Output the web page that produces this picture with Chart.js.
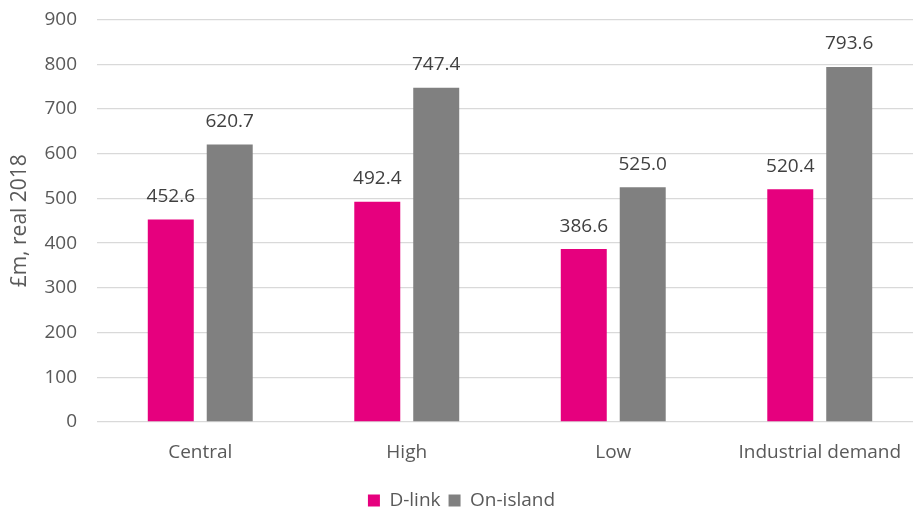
<!DOCTYPE html>
<html>
<head>
<meta charset="utf-8">
<script src="https://cdn.jsdelivr.net/npm/chart.js@4.4.1/dist/chart.umd.min.js"></script>
<style>
  html, body { margin: 0; padding: 0; overflow: hidden; background: #fff; }
  #wrap { width: 925px; height: 511px; }
</style>
</head>
<body>
<div id="wrap"><canvas id="chart" width="925" height="511"></canvas></div>
<script>
var categories = ["Central", "High", "Low", "Industrial demand"];
var dlink = [452.6, 492.4, 386.6, 520.4];
var onIsland = [620.7, 747.4, 525.0, 793.6];
var yTicks = [0, 100, 200, 300, 400, 500, 600, 700, 800, 900];

var font = "'Open Sans', sans-serif";

// draws the value above each bar
var valueLabels = {
  id: 'valueLabels',
  afterDatasetsDraw: function(chart) {
    var ctx = chart.ctx;
    ctx.save();
    ctx.font = "19px " + font;
    ctx.fillStyle = "#404040";
    ctx.textAlign = "center";
    ctx.textBaseline = "middle";
    chart.data.datasets.forEach(function(ds, i) {
      chart.getDatasetMeta(i).data.forEach(function(bar, j) {
        ctx.fillText(ds.data[j].toFixed(1), bar.x, bar.y - 23);
      });
    });
    ctx.restore();
  }
};

new Chart(document.getElementById("chart"), {
  type: 'bar',
  data: {
    labels: categories,
    datasets: [{
      label: "D-link",
      data: dlink,
      backgroundColor: "#E6007E"
    }, {
      label: "On-island",
      data: onIsland,
      backgroundColor: "#808080"
    }]
  },
  options: {
    responsive: false,
    animation: false,
    categoryPercentage: 0.571,
    barPercentage: 0.78,
    layout: { padding: { top: 19.5, right: 2, bottom: -9, left: 0 } },
    scales: {
      x: {
        grid: { display: false, drawTicks: false },
        border: { display: false },
        ticks: { padding: 19, color: "#595959", font: { family: font, size: 19 } },
        afterFit: function(scale) { scale.height = 61; }
      },
      y: {
        min: 0,
        max: 900,
        afterBuildTicks: function(scale) {
          scale.ticks = yTicks.map(function(v) { return { value: v }; });
        },
        grid: { color: "#D9D9D9", lineWidth: 1.3, drawTicks: false },
        border: { display: false },
        ticks: { padding: 20, color: "#595959", font: { family: font, size: 19 } },
        title: {
          display: true,
          text: "£m, real 2018",
          color: "#595959",
          font: { family: font, size: 21 },
          padding: { top: 7, bottom: 0 }
        },
        afterFit: function(scale) {
          scale.width = 97;
          scale.paddingTop = 0;
          scale.paddingBottom = 0;
        }
      }
    },
    plugins: {
      legend: {
        position: 'bottom',
        labels: {
          boxWidth: 12,
          boxHeight: 12,
          padding: 8,
          color: "#595959",
          font: { family: font, size: 19 }
        }
      },
      tooltip: { enabled: false }
    }
  },
  plugins: [valueLabels]
});
</script>
</body>
</html>
